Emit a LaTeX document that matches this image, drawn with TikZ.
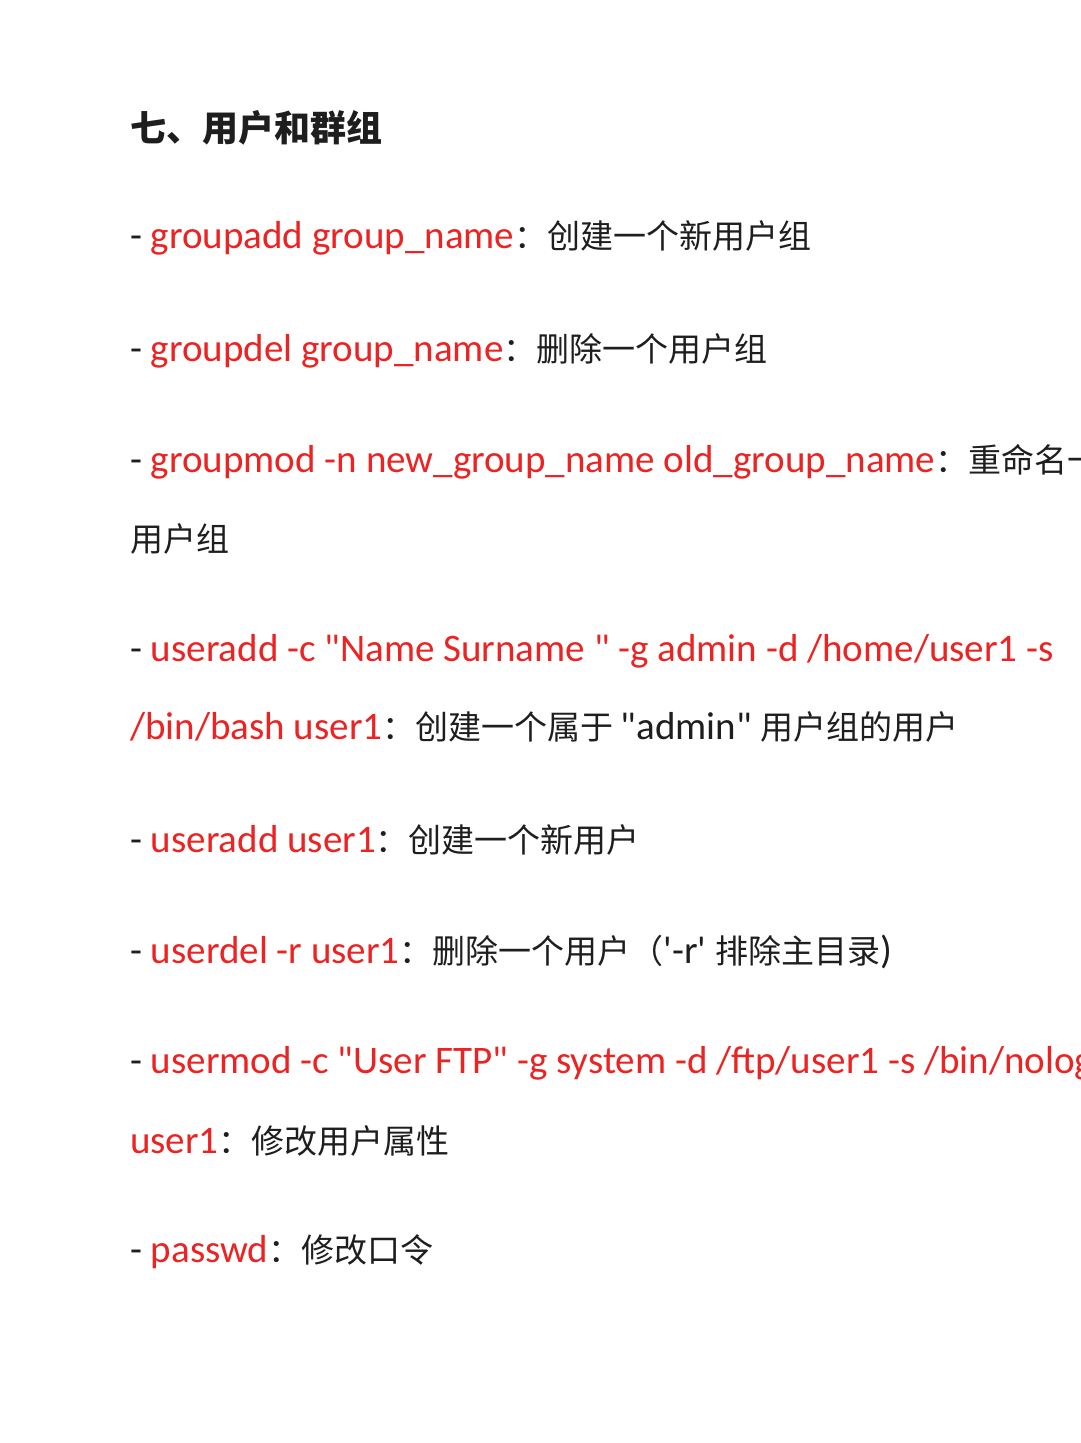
\documentclass[tikz,border=0pt]{standalone}
\usepackage{fontspec}
\newfontfamily\plain{Carlito}
\newfontfamily\cjk{Noto Sans CJK SC}
\newcommand{\dq}{"}
\definecolor{cmdred}{RGB}{235,35,35}
\definecolor{txt}{RGB}{30,30,30}
\begin{document}
\begin{tikzpicture}[x=1pt,y=-1pt,
  ln/.style={anchor=west,inner sep=0pt,text=txt,font=\fontsize{39}{44}\plain}]
\useasboundingbox (0,0) rectangle (1080,1443);
\clip (0,0) rectangle (1080,1443);
\fill[white] (0,0) rectangle (1080,1443);
\node[ln,font=\fontsize{36}{40}\selectfont\cjk\bfseries] (t) at (130,128) {七、用户和群组};
\newcommand{\zh}[1]{{\fontsize{33}{40}\selectfont\cjk #1}}
\node[ln] (l1) at (130,238) {- \textcolor{cmdred}{groupadd group\_name}\zh{：创建一个新用户组}};
\node[ln] (l2) at (130,351) {- \textcolor{cmdred}{groupdel group\_name}\zh{：删除一个用户组}};
\node[ln] (l3) at (130,462) {- \textcolor{cmdred}{groupmod -n new\_group\_name old\_group\_name}\zh{：重命名一个}};
\node[ln] (l3b) at (130,539) {\zh{用户组}};
\node[ln] (l4) at (130,651) {- \textcolor{cmdred}{useradd -c \dq Name Surname \dq\ -g admin -d /home/user1 -s}};
\node[ln] (l4b) at (130,727) {\textcolor{cmdred}{/bin/bash user1}\zh{：创建一个属于 }\dq admin\dq\ \zh{用户组的用户}};
\node[ln] (l5) at (130,840) {- \textcolor{cmdred}{useradd user1}\zh{：创建一个新用户}};
\node[ln] (l6) at (130,952) {- \textcolor{cmdred}{userdel -r user1}\zh{：删除一个用户（}'-r' \zh{排除主目录}{)}};
\node[ln] (l7) at (130,1063) {- \textcolor{cmdred}{usermod -c \dq User FTP\dq\ -g system -d /ftp/user1 -s /bin/nologin}};
\node[ln] (l7b) at (130,1141) {\textcolor{cmdred}{user1}\zh{：修改用户属性}};
\node[ln] (l8) at (130,1252) {- \textcolor{cmdred}{passwd}\zh{：修改口令}};
\end{tikzpicture}
\end{document}
